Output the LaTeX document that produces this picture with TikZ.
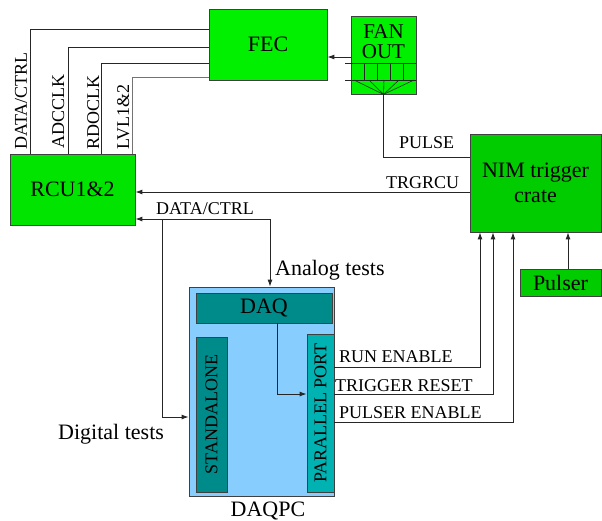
\documentclass[tikz,border=0pt]{standalone}
\usepackage{fontspec}
\setmainfont{Liberation Serif}
\usetikzlibrary{arrows.meta}
\definecolor{fecgreen}{HTML}{00F000}
\definecolor{rcugreen}{HTML}{00E400}
\definecolor{nimgreen}{HTML}{00CC00}
\definecolor{pcblue}{HTML}{87CEFF}
\definecolor{daqteal}{HTML}{008B8B}
\definecolor{portteal}{HTML}{00B2B2}
\definecolor{edge}{HTML}{404040}

\tikzset{
  box/.style={draw=edge, line width=0.8pt, inner sep=0pt, font=\fontsize{22}{25}\selectfont},
  wire/.style={line width=0.9pt, color=black!85},
  arr/.style={wire, -{Latex[length=7pt,width=5pt]}},
  lbl/.style={anchor=base west, inner sep=0pt, font=\fontsize{18}{20}\selectfont},
}

\begin{document}
\begin{tikzpicture}[x=1pt, y=-1pt]
\useasboundingbox (0,0) rectangle (602,520);

% Front end and readout
\node[box, fill=fecgreen, minimum width=118, minimum height=71] (fec) at (268,44.5) {FEC};
\node[box, fill=rcugreen, minimum width=125, minimum height=71] (rcu) at (72.5,189.5) {RCU1\&2};

% Fan out
\node[box, fill=fecgreen, minimum width=65, minimum height=78] (fanout) at (383.5,55) {};
\node[align=center, inner sep=0pt, font=\fontsize{21}{20}\selectfont] (fanlbl) at (383.5,41.5) {FAN\\OUT};
\draw[wire, line width=0.6pt] (345,63) -- (fanout.east |- 0,63);
\draw[wire, line width=0.6pt] (345,80) -- (fanout.east |- 0,80);
\foreach \x in {364,377,390,403}
  \draw[wire, line width=0.6pt] (\x,63) -- (\x,80);
\foreach \x in {354,369,384,399,414}
  \draw[wire, line width=0.6pt] (fanout.south) -- (\x,80);

% Trigger
\node[box, fill=nimgreen, align=center, minimum width=131, minimum height=98] (nim) at (535.5,183) {NIM trigger\\crate};
\node[box, fill=nimgreen, minimum width=81, minimum height=27] (pulser) at (560.5,282.5) {Pulser};

% DAQ PC (rotated boxes: north is the left side, south the right side)
\node[box, fill=pcblue, minimum width=145, minimum height=209] (daqpc) at (261.5,391.5) {};
\node[box, fill=daqteal, minimum width=136, minimum height=30] (daq) at (264,308) {DAQ};
\node[box, fill=daqteal, rotate=90, minimum width=155, minimum height=31, font=\fontsize{18}{20}\selectfont] (standalone) at (211.5,414.5) {STANDALONE};
\node[box, fill=portteal, rotate=90, minimum width=158, minimum height=27, font=\fontsize{18}{20}\selectfont] (pport) at (320.5,413) {PARALLEL PORT};
\node[anchor=base, inner sep=0pt, font=\fontsize{22}{25}\selectfont] (pclbl) at (268,516) {DAQPC};

% FEC - RCU bus
\draw[wire] (fec.west |- 0,29) -| (30,0 |- rcu.north);
\draw[wire] (fec.west |- 0,47) -| (68,0 |- rcu.north);
\draw[wire] (fec.west |- 0,63) -| (101,0 |- rcu.north);
\draw[wire, color=black!55] (fec.west |- 0,77) -| (132,0 |- rcu.north);
\node[lbl, rotate=90] (lbldata) at (27,150) {DATA/CTRL};
\node[lbl, rotate=90] (lbladc) at (64,149) {ADCCLK};
\node[lbl, rotate=90] (lblrdo) at (99,150) {RDOCLK};
\node[lbl, rotate=90] (lbllvl) at (129,150) {LVL1\&2};

% Trigger lines
\draw[arr] (fanout.west |- 0,57) -- (fec.east |- 0,57);
\draw[wire] (fanout.south) |- (nim.west |- 0,157);
\node[lbl] (lblpulse) at (399,148) {PULSE};
\draw[arr] (nim.west |- 0,192) -- (rcu.east |- 0,192);
\node[lbl] (lbltrg) at (386,188) {TRGRCU};

% Tests
\coordinate (tap) at (270,219);
\coordinate (tapd) at (162,219);
\draw[arr] (tap) -- (rcu.east |- tap);
\draw[arr] (tapd) |- (daqpc.west |- 0,417);
\draw[arr] (tap) -- (tap |- daqpc.north);
\node[lbl] (lbldc) at (156,214) {DATA/CTRL};
\node[lbl, font=\fontsize{22}{25}\selectfont] (lblana) at (275,275) {Analog tests};
\node[lbl, font=\fontsize{22}{25}\selectfont] (lbldig) at (58,439) {Digital tests};

% Parallel port outputs
\draw[arr] (daq.south -| 277,0) |- (pport.north |- 0,394);
\draw[arr] (pport.south |- 0,367) -| (480,0 |- nim.south);
\draw[arr] (pport.south |- 0,394) -| (493,0 |- nim.south);
\draw[arr] (pport.south |- 0,422) -| (513,0 |- nim.south);
\draw[arr] (568,0 |- pulser.north) -- (568,0 |- nim.south);
\node[lbl] (lblrun) at (339,362) {RUN ENABLE};
\node[lbl] (lblreset) at (335,391) {TRIGGER RESET};
\node[lbl] (lblpen) at (339,418) {PULSER ENABLE};

\end{tikzpicture}
\end{document}
